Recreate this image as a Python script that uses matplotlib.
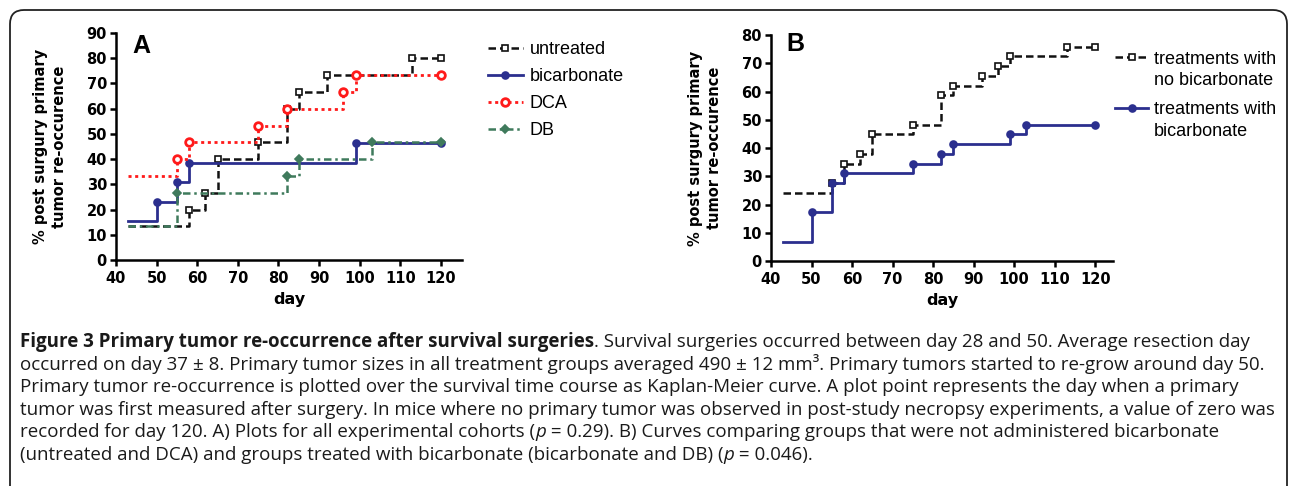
import matplotlib
matplotlib.use("Agg")
import matplotlib.pyplot as plt
from matplotlib.font_manager import FontProperties
from matplotlib.lines import Line2D
from matplotlib.patches import FancyBboxPatch
from matplotlib.transforms import IdentityTransform

# panel A: Kaplan-Meier style steps (first value = level before first event)
untreated_days = [43, 58, 62, 65, 75, 82, 85, 92, 113, 120]
untreated_pct = [13.3, 20.0, 26.7, 40.0, 46.7, 60.0, 66.7, 73.3, 80.0, 80.0]

bicarb_days = [43, 50, 55, 58, 99, 120]
bicarb_pct = [15.4, 23.1, 30.8, 38.5, 46.2, 46.2]

dca_days = [43, 55, 58, 75, 82, 96, 99, 120]
dca_pct = [33.3, 40.0, 46.7, 53.3, 60.0, 66.7, 73.3, 73.3]

db_days = [43, 55, 82, 85, 103, 120]
db_pct = [13.3, 26.7, 33.3, 40.0, 46.7, 46.7]

# panel B
nobic_days = [43, 55, 58, 62, 65, 75, 82, 85, 92, 96, 99, 113, 120]
nobic_pct = [24.1, 27.6, 34.5, 37.9, 44.8, 48.3, 58.6, 62.1, 65.5, 69.0, 72.4, 75.9, 75.9]

withbic_days = [43, 50, 55, 58, 75, 82, 85, 99, 103, 120]
withbic_pct = [6.9, 17.2, 27.6, 31.0, 34.5, 37.9, 41.4, 44.8, 48.3, 48.3]

x_ticks = [40, 50, 60, 70, 80, 90, 100, 110, 120]
ylabel = "% post surgury primary\ntumor re-occurence"
legend_b = [["treatments with", "no bicarbonate"], ["treatments with", "bicarbonate"]]

BLACK = "#111111"
BLUE = "#2b2f8e"
RED = "#ff1a1a"
GREEN = "#3f7a5c"

W, H = 1290, 486
fig = plt.figure(figsize=(W / 100, H / 100), dpi=100)

tick_fp = FontProperties(family="DejaVu Sans", weight="bold", size=10.5)
legend_fp = FontProperties(family="Liberation Sans", size=13)


def px_axes(left, top, right, bottom):
    return fig.add_axes([left / W, 1 - bottom / H, (right - left) / W, (bottom - top) / H])


def step(ax, days, pct, label, color, marker, mfc, ms, dashes, lw=1.8, mew=1.2):
    line, = ax.plot(days, pct, drawstyle="steps-post", color=color, lw=lw,
                    label=label, marker=marker, markevery=list(range(1, len(days))),
                    mfc=mfc, mec=color, ms=ms, mew=mew, clip_on=False)
    if dashes:
        line.set_dashes(dashes)
    return line


def style_axes(ax, ymax, xmax):
    ax.set_xlim(40, xmax)
    ax.set_ylim(0, ymax)
    ax.set_xticks(x_ticks)
    ax.set_yticks(range(0, ymax + 1, 10))
    for s in ("top", "right"):
        ax.spines[s].set_visible(False)
    for s in ("left", "bottom"):
        ax.spines[s].set_linewidth(1.8)
    ax.tick_params(width=1.8, length=4.5, pad=2)
    ax.tick_params(axis="x", pad=3.5)
    for lbl in ax.get_xticklabels() + ax.get_yticklabels():
        lbl.set_fontproperties(tick_fp)
    ax.set_xlabel("day", family="DejaVu Sans", weight="bold", size=11.5, labelpad=4)
    ax.set_ylabel(ylabel, family="DejaVu Sans", weight="bold", size=10.5,
                  labelpad=14, linespacing=1.3)


# ---- panel A
axA = px_axes(116, 33, 462, 260)
step(axA, untreated_days, untreated_pct, "untreated", BLACK, "s", "white", 5, (3, 1.6))
step(axA, bicarb_days, bicarb_pct, "bicarbonate", BLUE, "o", BLUE, 5, None, lw=2)
step(axA, dca_days, dca_pct, "DCA", RED, "o", "white", 5.5, (1.1, 1.3), lw=2, mew=2)
step(axA, db_days, db_pct, "DB", GREEN, "D", GREEN, 4, (3, 1.5, 1, 1.5))
style_axes(axA, 90, 125.2)
fig.text(132 / W, 1 - 46 / H, "A", family="Liberation Sans", weight="bold", size=18,
         va="center", ha="left")
axA.legend(loc="upper left", bbox_to_anchor=(481 / W, 1 - 34 / H),
           bbox_transform=fig.transFigure, frameon=False, prop=legend_fp,
           handlelength=1.9, handletextpad=0.4, labelspacing=0.55, borderaxespad=0)

# ---- panel B
axB = px_axes(771, 35, 1113, 261)
lines_b = [
    step(axB, nobic_days, nobic_pct, None, BLACK, "s", "white", 5, (3, 1.6)),
    step(axB, withbic_days, withbic_pct, None, BLUE, "o", BLUE, 5, None, lw=2),
]
style_axes(axB, 80, 124.4)
fig.text(786 / W, 1 - 44 / H, "B", family="Liberation Sans", weight="bold", size=18,
         va="center", ha="left")

# legend B: handle sits on the first text line, as in the original
for src, (l1, l2), y in zip(lines_b, legend_b, [57, 108]):
    h = Line2D([1115, 1131.5, 1148], [H - y, H - y, H - y])
    h.update_from(src)
    h.set_transform(IdentityTransform())
    h.set_clip_on(False)
    h.set_markevery([1])
    fig.add_artist(h)
    fig.text(1154 / W, 1 - (y + 6.5) / H, l1, fontproperties=legend_fp, va="baseline")
    fig.text(1154 / W, 1 - (y + 28) / H, l2, fontproperties=legend_fp, va="baseline")

# ---- border
fig.add_artist(FancyBboxPatch((10, -40), 1277, 516, boxstyle="round,pad=0,rounding_size=14",
                              transform=IdentityTransform(), fill=False, lw=1.3, ec="#222222"))

# ---- caption, built from segments (bold / regular / italic)
cap_font = "Open Sans"
cap_size = 13.5
caption = [
    [("Figure 3 Primary tumor re-occurrence after survival surgeries", "bold", "normal"),
     (". Survival surgeries occurred between day 28 and 50. Average resection day", "normal", "normal")],
    [("occurred on day 37 ± 8. Primary tumor sizes in all treatment groups averaged 490 ± 12 mm³. "
      "Primary tumors started to re-grow around day 50.", "normal", "normal")],
    [("Primary tumor re-occurrence is plotted over the survival time course as Kaplan-Meier curve. "
      "A plot point represents the day when a primary", "normal", "normal")],
    [("tumor was first measured after surgery. In mice where no primary tumor was observed in "
      "post-study necropsy experiments, a value of zero was", "normal", "normal")],
    [("recorded for day 120. A) Plots for all experimental cohorts (", "normal", "normal"),
     ("p", "normal", "italic"),
     (" = 0.29). B) Curves comparing groups that were not administered bicarbonate", "normal", "normal")],
    [("(untreated and DCA) and groups treated with bicarbonate (bicarbonate and DB) (", "normal", "normal"),
     ("p", "normal", "italic"),
     (" = 0.046).", "normal", "normal")],
]
baselines = [347, 369.5, 392, 414.5, 437, 459.5]

fig.canvas.draw()
renderer = fig.canvas.get_renderer()
for segs, y in zip(caption, baselines):
    x = 20
    for txt, weight, style in segs:
        t = fig.text(x / W, 1 - y / H, txt, family=cap_font, weight=weight, style=style,
                     size=cap_size, va="baseline", ha="left", color="#1a1a1a")
        x += t.get_window_extent(renderer).width

fig.savefig("out.png", dpi=100)
